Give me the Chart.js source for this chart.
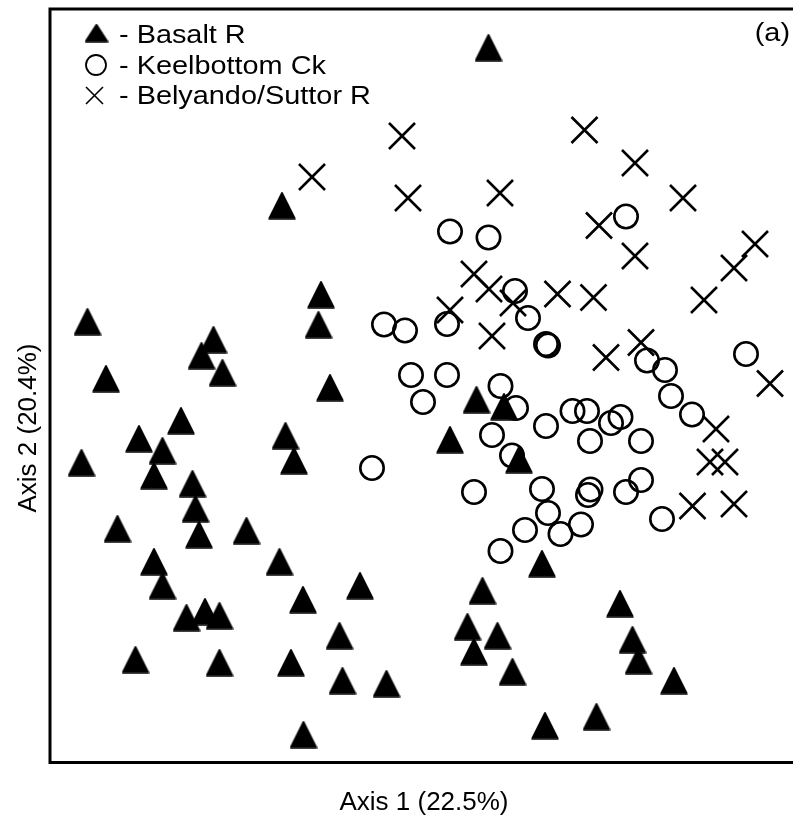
<!DOCTYPE html>
<html>
<head>
<meta charset="utf-8">
<script src="https://cdn.jsdelivr.net/npm/chart.js@4.4.0/dist/chart.umd.min.js"></script>
<style>
  html, body { margin: 0; padding: 0; background: #fff; overflow: hidden; }
  #outer { width: 793px; height: 818px; overflow: hidden; }
  #wrap { position: relative; width: 806px; height: 818px; }
</style>
</head>
<body>
<div id="outer"><div id="wrap"><canvas id="myChart"></canvas></div></div>
<script>
// ordination scores (arbitrary units, no ticks shown)
const seriesNames = ['Basalt R', 'Keelbottom Ck', 'Belyando/Suttor R']
const axisTitles = ['Axis 1 (22.5%)', 'Axis 2 (20.4%)']
const panelLabel = '(a)'

const basaltX = [6.45, -14.2, -33.65, -21.05, -22.25, -20.15, -31.8, -10.3, -10.55, -9.4,
  -24.3, -28.5, -26.15, -34.25, -27.0, -13.85, -13.0, -23.15, -22.85, -22.5,
  -30.65, -17.75, -27.0, -14.45, 5.25, 8.0, 2.6, 9.5, 11.8, -26.15,
  -23.75, -21.9, -20.45, -28.85, -20.45, -13.3, -6.4, -12.1, -8.45, -8.15,
  -3.75, -12.05, 5.85, 4.35, 7.35, 5.0, 8.85, 12.1, 19.6, 20.85,
  21.45, 25.0, 17.25]
const basaltY = [33.85, 18.05, 6.45, 4.65, 3.05, 1.35, 0.75, 9.15, 6.15, -0.15,
  -3.45, -5.25, -6.45, -7.65, -8.95, -4.95, -7.45, -9.75, -12.25, -14.85,
  -14.25, -14.45, -17.55, -17.55, -1.35, -2.05, -5.35, -7.35, -17.75, -19.95,
  -23.15, -22.55, -22.95, -27.35, -27.65, -27.65, -19.95, -21.35, -24.95, -29.45,
  -29.75, -34.85, -20.45, -24.05, -24.95, -26.55, -28.55, -33.95, -21.75, -25.35,
  -27.45, -29.45, -33.05]

const keelX = [2.6, 6.45, 9.1, 10.4, -4.0, -1.9, 2.3, 12.2, 12.4, -1.3,
  2.3, 7.65, 20.2, 22.3, 24.1, 32.2, -0.1, 9.2, 12.2, 6.8,
  8.8, -5.2, 5.0, 11.8, 12.4, 10.1, 7.65, 24.7, 26.8, 14.85,
  16.3, 18.7, 19.65, 16.6, 21.7, 16.65, 16.4, 20.2, 21.7, 23.8,
  15.7, 13.65]
const keelY = [15.45, 14.85, 9.5, 6.8, 6.15, 5.55, 6.2, 4.2, 4.05, 1.1,
  1.1, 0.0, 16.95, 2.55, 1.6, 3.2, -1.6, -2.2, -4.0, -4.9,
  -6.95, -8.2, -10.6, -10.3, -12.7, -14.4, -16.5, -1.0, -2.85, -2.5,
  -2.5, -3.7, -3.1, -5.5, -5.5, -10.35, -10.9, -10.6, -9.4, -13.3,
  -13.85, -14.8]

const belyX = [-2.2, -11.2, -1.6, 7.6, 16.05, 21.1, 25.9, 5.0, 6.5, 8.9,
  2.6, 6.8, 17.5, 21.1, 33.1, 31.0, 28.0, 13.35, 16.95, 18.2,
  21.7, 34.6, 29.2, 28.6, 30.1, 26.85, 31.0]
const belyY = [25.0, 20.9, 18.8, 19.3, 25.6, 22.3, 18.8, 11.2, 9.7, 8.3,
  7.6, 5.0, 16.05, 13.0, 14.2, 11.8, 8.6, 9.2, 8.85, 2.85,
  4.35, 0.25, -4.3, -7.6, -7.6, -12.0, -11.8]

const xRange = [-37.4, 37.4]
const yRange = [-37.65, 37.7]

const FONT = "'Liberation Sans', Arial, sans-serif"

function pts(xs, ys) {
  return xs.map((x, i) => ({ x: x, y: ys[i] }))
}

// filled triangle as a small canvas so it can be a bit taller than equilateral
function triangleImage(w, h) {
  const c = document.createElement('canvas')
  c.width = w + 2
  c.height = h + 2
  const g = c.getContext('2d')
  g.fillStyle = '#000'
  g.strokeStyle = '#000'
  g.lineJoin = 'round'
  g.lineWidth = 1.5
  g.beginPath()
  g.moveTo(c.width / 2, 1)
  g.lineTo(c.width - 1, c.height - 1)
  g.lineTo(1, c.height - 1)
  g.closePath()
  g.fill()
  g.stroke()
  return c
}

const triangle = triangleImage(26, 26)
const legendTriangle = triangleImage(22, 17)

// the original lettering is a little wider than Arial, so stretch it slightly
function wideText(ctx, text, x, y, align) {
  ctx.save()
  ctx.translate(x, y)
  ctx.scale(1.11, 1)
  ctx.textAlign = align
  ctx.fillText(text, 0, 0)
  ctx.restore()
}

// frame, legend, y title and panel label
const decorations = {
  id: 'decorations',
  beforeDatasetsDraw(chart) {
    const ctx = chart.ctx
    const a = chart.chartArea
    ctx.save()
    ctx.strokeStyle = '#000'
    ctx.lineWidth = 3
    ctx.strokeRect(a.left, a.top, a.right - a.left, a.bottom - a.top)
    ctx.restore()
  },
  afterDraw(chart) {
    const ctx = chart.ctx
    ctx.save()
    ctx.fillStyle = '#000'
    ctx.strokeStyle = '#000'
    // legend markers
    ctx.drawImage(legendTriangle, 96.5 - legendTriangle.width / 2, 33 - legendTriangle.height / 2)
    ctx.lineWidth = 1.8
    ctx.beginPath()
    ctx.arc(96, 65, 10, 0, Math.PI * 2)
    ctx.stroke()
    ctx.lineWidth = 1.6
    ctx.beginPath()
    ctx.moveTo(86, 87); ctx.lineTo(103, 104)
    ctx.moveTo(103, 87); ctx.lineTo(86, 104)
    ctx.stroke()
    // legend text
    ctx.font = '26px ' + FONT
    ctx.textBaseline = 'alphabetic'
    const baselines = [42.7, 74, 104]
    seriesNames.forEach((name, i) => {
      wideText(ctx, '- ' + name, 119, baselines[i], 'left')
    })
    wideText(ctx, panelLabel, 790, 40.5, 'right')
    // y axis title, sits a little below the middle of the frame
    ctx.save()
    ctx.translate(29, 428)
    ctx.rotate(-Math.PI / 2)
    ctx.textAlign = 'center'
    ctx.textBaseline = 'middle'
    ctx.fillText(axisTitles[1], 0, 0)
    ctx.restore()
    ctx.restore()
  }
}

const ctx = document.getElementById('myChart')
const myChart = new Chart(ctx, {
  type: 'scatter',
  data: {
    datasets: [
      {
        label: seriesNames[0],
        data: pts(basaltX, basaltY),
        pointStyle: triangle,
        pointRadius: 14,
        backgroundColor: '#000',
        borderColor: '#000'
      },
      {
        label: seriesNames[1],
        data: pts(keelX, keelY),
        pointStyle: 'circle',
        pointRadius: 11.7,
        pointBorderWidth: 2.6,
        backgroundColor: 'rgba(0,0,0,0)',
        borderColor: '#000'
      },
      {
        label: seriesNames[2],
        data: pts(belyX, belyY),
        pointStyle: 'crossRot',
        pointRadius: 18.4,
        pointBorderWidth: 2.6,
        backgroundColor: 'rgba(0,0,0,0)',
        borderColor: '#000'
      }
    ]
  },
  options: {
    responsive: true,
    maintainAspectRatio: false,
    animation: false,
    events: [],
    layout: {
      autoPadding: false, // otherwise the big markers push the frame inwards
      padding: { left: 50, top: 9, right: 8, bottom: 0 }
    },
    plugins: {
      legend: { display: false },
      tooltip: { enabled: false }
    },
    scales: {
      x: {
        min: xRange[0],
        max: xRange[1],
        grid: { display: false, drawTicks: false },
        border: { display: false },
        ticks: { display: false },
        title: {
          display: true,
          text: axisTitles[0],
          color: '#000',
          font: { family: FONT, size: 26 },
          padding: { top: 24.3, bottom: 0 }
        }
      },
      y: {
        min: yRange[0],
        max: yRange[1],
        grid: { display: false, drawTicks: false },
        border: { display: false },
        ticks: { display: false },
        title: { display: false }
      }
    }
  },
  plugins: [decorations]
})
</script>
</body>
</html>
